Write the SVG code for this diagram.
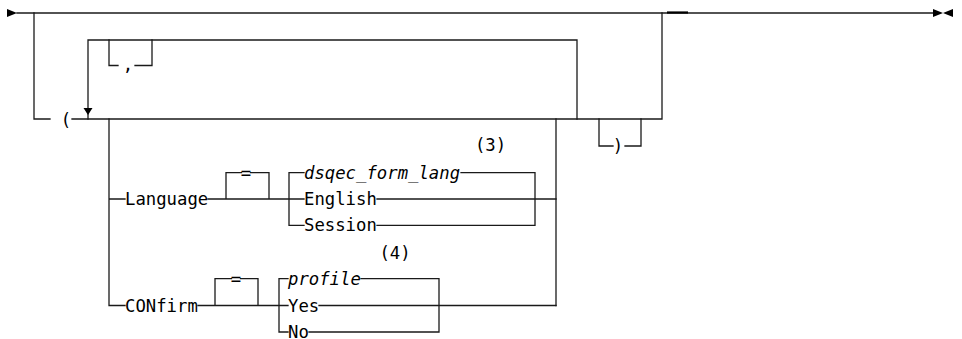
<svg xmlns="http://www.w3.org/2000/svg" width="962" height="339" viewBox="0 0 962 339">
<style>
.l{fill:none;stroke:#1a1a1a;stroke-width:1.3;stroke-linecap:square}
.t{font-family:"DejaVu Sans Mono","Liberation Mono",monospace;font-size:17.3px;fill:#000}
.i{font-style:italic}
.a{fill:#000}
</style>
<rect width="962" height="339" fill="#fff"/>
<g id="connectors">
<path class="l" d="M17 13H933"/>
<path d="M667 12.5H688" stroke="#000" stroke-width="2.2"/>
<path class="l" d="M34 13V119H50M72 119H662V13"/>
<path class="l" d="M88 119V40H577V119"/>
<path class="l" d="M109 40V65.5H118M135 65.5H152V40"/>
<path class="l" d="M109 119V305.5H125M109 199H125"/>
<path class="l" d="M556 119V305.5"/>
<path class="l" d="M599 119V146H613M625 146H641V119"/>
<path class="l" d="M208 199H304M226 199V172.7H241.5M250.5 172.7H269V199"/>
<path class="l" d="M304 172.7H289V225.3H304M461 172.7H535V225.3H377M377 199H556"/>
<path class="l" d="M198 305.5H288M215 305.5V278.7H231.5M240.5 278.7H258V305.5"/>
<path class="l" d="M288 278.7H279V332H288M361 278.7H439V332H309M319 305.5H556"/>
<path class="a" d="M7 9L17 13L7 17Z"/>
<path class="a" d="M933 9L943 13L933 17ZM953 9L943 13L953 17Z"/>
<path class="a" d="M83.5 108L92.5 108L88 115Z"/>
</g>
<g id="lparen"><text class="t" x="66" y="126" text-anchor="middle">(</text></g>
<g id="comma"><text class="t" x="128" y="71" text-anchor="middle">,</text></g>
<g id="rparen"><text class="t" x="618" y="152" text-anchor="middle">)</text></g>
<g id="language"><text class="t" x="125" y="205">Language</text></g>
<g id="lang-eq"><text class="t" x="246" y="178.7" text-anchor="middle">=</text></g>
<g id="note3"><text class="t" x="490.5" y="150.5" text-anchor="middle">(3)</text></g>
<g id="dsqec"><text class="t i" x="304" y="178.7">dsqec_form_lang</text></g>
<g id="english"><text class="t" x="304" y="205">English</text></g>
<g id="session"><text class="t" x="304" y="231.3">Session</text></g>
<g id="confirm"><text class="t" x="125" y="311.5">CONfirm</text></g>
<g id="conf-eq"><text class="t" x="236" y="284.7" text-anchor="middle">=</text></g>
<g id="note4"><text class="t" x="395" y="259" text-anchor="middle">(4)</text></g>
<g id="profile"><text class="t i" x="288" y="284.7">profile</text></g>
<g id="yes"><text class="t" x="288" y="311.5">Yes</text></g>
<g id="no"><text class="t" x="288" y="337.6">No</text></g>
</svg>
